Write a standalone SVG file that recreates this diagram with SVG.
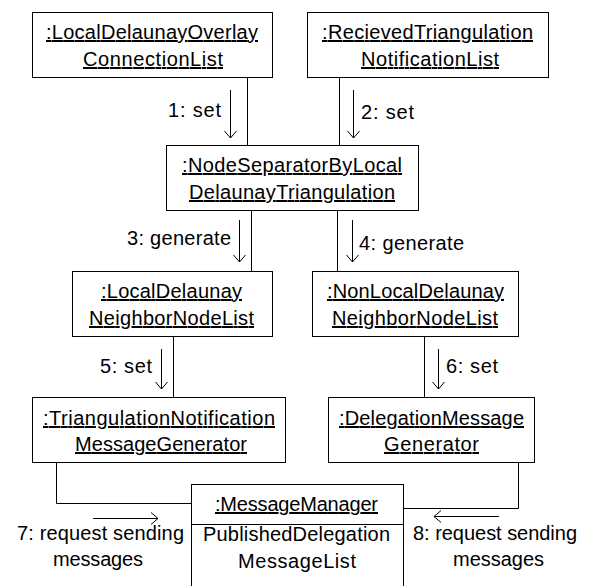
<svg xmlns="http://www.w3.org/2000/svg" width="596" height="586" viewBox="0 0 596 586">
  <style>
    .box { fill: #ffffff; stroke: #000000; stroke-width: 1; }
    .wire { fill: none; stroke: #000000; stroke-width: 1; }
    .msg { fill: none; stroke: #000000; stroke-width: 1; marker-end: url(#open); }
    text { font-family: "Liberation Sans", Arial, sans-serif; font-size: 20px; fill: #000000; }
    .obj { text-anchor: middle; text-decoration: underline; }
    .attr { text-anchor: middle; }
  </style>
  <defs>
    <marker id="open" markerUnits="userSpaceOnUse" markerWidth="10" markerHeight="14" refX="0" refY="0" orient="auto" overflow="visible">
      <path d="M-7,-6 L0,0 L-7,6" fill="none" stroke="#000000" stroke-width="1"/>
    </marker>
  </defs>

  <rect width="596" height="586" fill="#ffffff"/>

  <!-- links between objects, and message arrows with their labels -->
  <g id="connectors">
    <path class="wire" d="M247.5,77.5 V145.5"/>
    <path class="wire" d="M339.5,77.5 V145.5"/>
    <path class="wire" d="M251.5,210.5 V271.5"/>
    <path class="wire" d="M337.5,210.5 V271.5"/>
    <path class="wire" d="M173.5,336.5 V397.5"/>
    <path class="wire" d="M424.5,336.5 V397.5"/>
    <path class="wire" d="M56.5,462.5 V503.5 H191.5"/>
    <path class="wire" d="M518.5,462.5 V508.5 H403.5"/>

    <path class="msg" d="M230.5,90 V138"/>
    <path class="msg" d="M353.5,90 V138"/>
    <path class="msg" d="M239.5,220 V262"/>
    <path class="msg" d="M352.5,220 V262"/>
    <path class="msg" d="M161.5,349 V389"/>
    <path class="msg" d="M438.5,349 V389"/>
    <path class="msg" d="M93,518.5 H158"/>
    <path class="msg" d="M499,516.5 H434"/>

    <text x="168" y="117" textLength="53" lengthAdjust="spacing">1: set</text>
    <text x="361" y="119" textLength="53" lengthAdjust="spacing">2: set</text>
    <text x="127" y="245" textLength="104" lengthAdjust="spacing">3: generate</text>
    <text x="359" y="250" textLength="105" lengthAdjust="spacing">4: generate</text>
    <text x="100" y="373" textLength="52" lengthAdjust="spacing">5: set</text>
    <text x="446" y="373" textLength="52" lengthAdjust="spacing">6: set</text>
    <text x="17" y="540" textLength="167" lengthAdjust="spacing">7: request sending</text>
    <text x="53" y="566" textLength="90" lengthAdjust="spacing">messages</text>
    <text x="413" y="540" textLength="164" lengthAdjust="spacing">8: request sending</text>
    <text x="453" y="566" textLength="91" lengthAdjust="spacing">messages</text>
  </g>

  <g id="localDelaunayOverlayConnectionList">
    <rect class="box" x="32.5" y="12.5" width="240" height="65"/>
    <text class="obj" x="152" y="39" textLength="212" lengthAdjust="spacing">:LocalDelaunayOverlay</text>
    <text class="obj" x="153" y="66" textLength="140" lengthAdjust="spacing">ConnectionList</text>
  </g>

  <g id="recievedTriangulationNotificationList">
    <rect class="box" x="307.5" y="12.5" width="241" height="65"/>
    <text class="obj" x="427.5" y="39" textLength="211" lengthAdjust="spacing">:RecievedTriangulation</text>
    <text class="obj" x="430" y="66" textLength="138" lengthAdjust="spacing">NotificationList</text>
  </g>

  <g id="nodeSeparator">
    <rect class="box" x="166.5" y="145.5" width="252" height="65"/>
    <text class="obj" x="292" y="172" textLength="220" lengthAdjust="spacing">:NodeSeparatorByLocal</text>
    <text class="obj" x="292" y="199" textLength="206" lengthAdjust="spacing">DelaunayTriangulation</text>
  </g>

  <g id="localDelaunayNeighborNodeList">
    <rect class="box" x="72.5" y="271.5" width="200" height="65"/>
    <text class="obj" x="171.5" y="298" textLength="141" lengthAdjust="spacing">:LocalDelaunay</text>
    <text class="obj" x="171.5" y="325" textLength="165" lengthAdjust="spacing">NeighborNodeList</text>
  </g>

  <g id="nonLocalDelaunayNeighborNodeList">
    <rect class="box" x="312.5" y="271.5" width="206" height="65"/>
    <text class="obj" x="415.5" y="298" textLength="177" lengthAdjust="spacing">:NonLocalDelaunay</text>
    <text class="obj" x="415" y="325" textLength="166" lengthAdjust="spacing">NeighborNodeList</text>
  </g>

  <g id="triangulationNotificationMessageGenerator">
    <rect class="box" x="32.5" y="397.5" width="253" height="65"/>
    <text class="obj" x="159" y="425" textLength="232" lengthAdjust="spacing">:TriangulationNotification</text>
    <text class="obj" x="161" y="451" textLength="172" lengthAdjust="spacing">MessageGenerator</text>
  </g>

  <g id="delegationMessageGenerator">
    <rect class="box" x="328.5" y="397.5" width="206" height="65"/>
    <text class="obj" x="431.5" y="425" textLength="185" lengthAdjust="spacing">:DelegationMessage</text>
    <text class="obj" x="431.5" y="451" textLength="95" lengthAdjust="spacing">Generator</text>
  </g>

  <g id="messageManager">
    <rect class="box" x="191.5" y="484.5" width="212" height="110"/>
    <path class="wire" d="M191.5,524.5 H403.5"/>
    <text class="obj" x="296.5" y="511" textLength="163" lengthAdjust="spacing">:MessageManager</text>
    <text class="attr" x="296.5" y="541" textLength="187" lengthAdjust="spacing">PublishedDelegation</text>
    <text class="attr" x="297" y="568" textLength="118" lengthAdjust="spacing">MessageList</text>
  </g>
</svg>
